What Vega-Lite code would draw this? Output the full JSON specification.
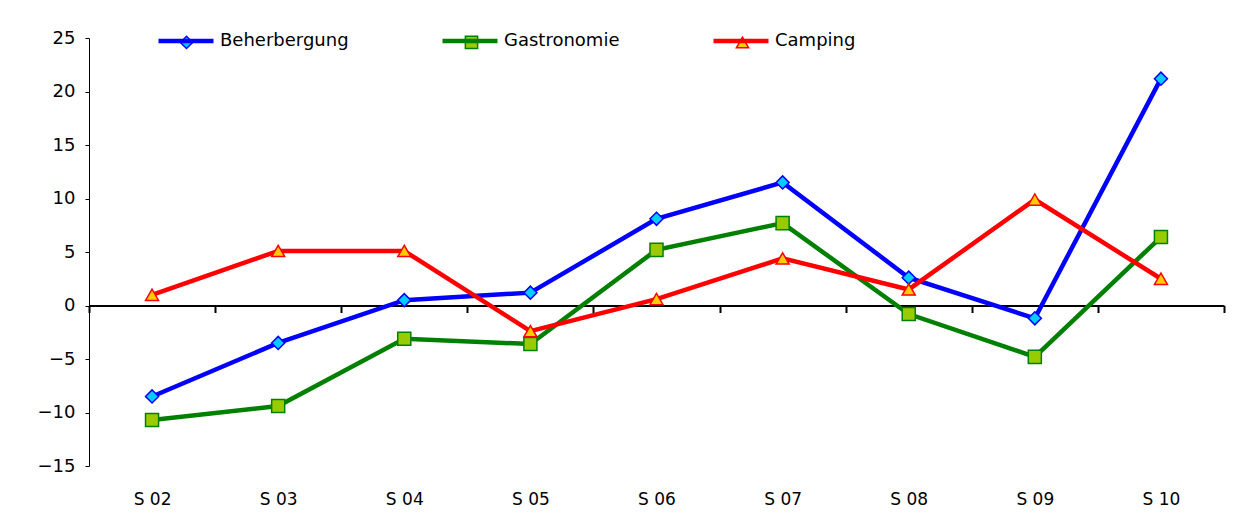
{
  "$schema": "https://vega.github.io/schema/vega-lite/v6.json",
  "width": 1135,
  "height": 428,
  "autosize": "none",
  "padding": {"left": 89, "top": 38, "right": 22, "bottom": 54},
  "background": "white",
  "config": {
    "view": {"stroke": null},
    "font": "DejaVu Sans",
    "axis": {"grid": false}
  },
  "data": {
    "values": [
      {"week": "S 02", "series": "Beherbergung", "value": -8.5},
      {"week": "S 03", "series": "Beherbergung", "value": -3.5},
      {"week": "S 04", "series": "Beherbergung", "value": 0.5},
      {"week": "S 05", "series": "Beherbergung", "value": 1.2},
      {"week": "S 06", "series": "Beherbergung", "value": 8.1},
      {"week": "S 07", "series": "Beherbergung", "value": 11.5},
      {"week": "S 08", "series": "Beherbergung", "value": 2.6},
      {"week": "S 09", "series": "Beherbergung", "value": -1.2},
      {"week": "S 10", "series": "Beherbergung", "value": 21.2},
      {"week": "S 02", "series": "Gastronomie", "value": -10.7},
      {"week": "S 03", "series": "Gastronomie", "value": -9.4},
      {"week": "S 04", "series": "Gastronomie", "value": -3.1},
      {"week": "S 05", "series": "Gastronomie", "value": -3.6},
      {"week": "S 06", "series": "Gastronomie", "value": 5.2},
      {"week": "S 07", "series": "Gastronomie", "value": 7.7},
      {"week": "S 08", "series": "Gastronomie", "value": -0.8},
      {"week": "S 09", "series": "Gastronomie", "value": -4.8},
      {"week": "S 10", "series": "Gastronomie", "value": 6.4},
      {"week": "S 02", "series": "Camping", "value": 1.0},
      {"week": "S 03", "series": "Camping", "value": 5.1},
      {"week": "S 04", "series": "Camping", "value": 5.1},
      {"week": "S 05", "series": "Camping", "value": -2.4},
      {"week": "S 06", "series": "Camping", "value": 0.6},
      {"week": "S 07", "series": "Camping", "value": 4.4},
      {"week": "S 08", "series": "Camping", "value": 1.5},
      {"week": "S 09", "series": "Camping", "value": 9.9},
      {"week": "S 10", "series": "Camping", "value": 2.5}
    ]
  },
  "encoding": {
    "x": {
      "field": "week",
      "type": "nominal",
      "sort": ["S 02", "S 03", "S 04", "S 05", "S 06", "S 07", "S 08", "S 09", "S 10"],
      "scale": {"type": "band", "paddingInner": 0, "paddingOuter": 0},
      "axis": {
        "title": null,
        "offset": -160.5,
        "tickBand": "extent",
        "tickSize": 7,
        "tickWidth": 2,
        "tickColor": "black",
        "domainColor": "black",
        "domainWidth": 2,
        "labelAngle": 0,
        "labelPadding": 179,
        "labelFontSize": 17,
        "labelColor": "black",
        "labelFont": "DejaVu Sans"
      }
    },
    "y": {
      "field": "value",
      "type": "quantitative",
      "scale": {"domain": [-15, 25], "nice": false, "zero": false},
      "axis": {
        "title": null,
        "values": [-15, -10, -5, 0, 5, 10, 15, 20, 25],
        "tickSize": 4,
        "tickColor": "black",
        "domainColor": "black",
        "labelFontSize": 18,
        "labelColor": "black",
        "labelPadding": 10,
        "labelFont": "DejaVu Sans"
      }
    }
  },
  "layer": [
    {
      "mark": {"type": "line", "strokeWidth": 4.5},
      "encoding": {
        "color": {
          "field": "series",
          "type": "nominal",
          "scale": {"domain": ["Beherbergung", "Gastronomie", "Camping"], "range": ["#0000FF", "#008000", "#FF0000"]},
          "legend": {
            "title": null,
            "orient": "none",
            "direction": "horizontal",
            "legendX": 67,
            "legendY": -27,
            "symbolType": "stroke",
            "symbolSize": 3025,
            "symbolStrokeWidth": 4.5,
            "labelFontSize": 18,
            "labelFont": "DejaVu Sans",
            "labelColor": "black",
            "labelOffset": 4,
            "columnPadding": 84,
            "padding": 0
          }
        }
      }
    },
    {
      "mark": {"type": "point", "filled": true, "opacity": 1, "strokeWidth": 1.5, "size": 170},
      "encoding": {
        "shape": {
          "field": "series",
          "type": "nominal",
          "scale": {"domain": ["Beherbergung", "Gastronomie", "Camping"], "range": ["diamond", "square", "triangle-up"]},
          "legend": {
            "title": null,
            "orient": "none",
            "direction": "horizontal",
            "legendX": 88.5,
            "legendY": -5,
            "symbolSize": 150,
            "symbolStrokeWidth": 1.5,
            "symbolOpacity": 1,
            "labelFontSize": 18,
            "labelFont": "DejaVu Sans",
            "labelOpacity": 0,
            "labelOffset": 25.5,
            "columnPadding": 111,
            "padding": 0
          }
        },
        "fill": {
          "field": "series",
          "type": "nominal",
          "scale": {"domain": ["Beherbergung", "Gastronomie", "Camping"], "range": ["#00CCFF", "#99CC00", "#FFCC00"]}
        },
        "stroke": {
          "field": "series",
          "type": "nominal",
          "scale": {"domain": ["Beherbergung", "Gastronomie", "Camping"], "range": ["#0000FF", "#008000", "#FF0000"]}
        }
      }
    }
  ],
  "resolve": {"legend": {"color": "independent"}}
}
